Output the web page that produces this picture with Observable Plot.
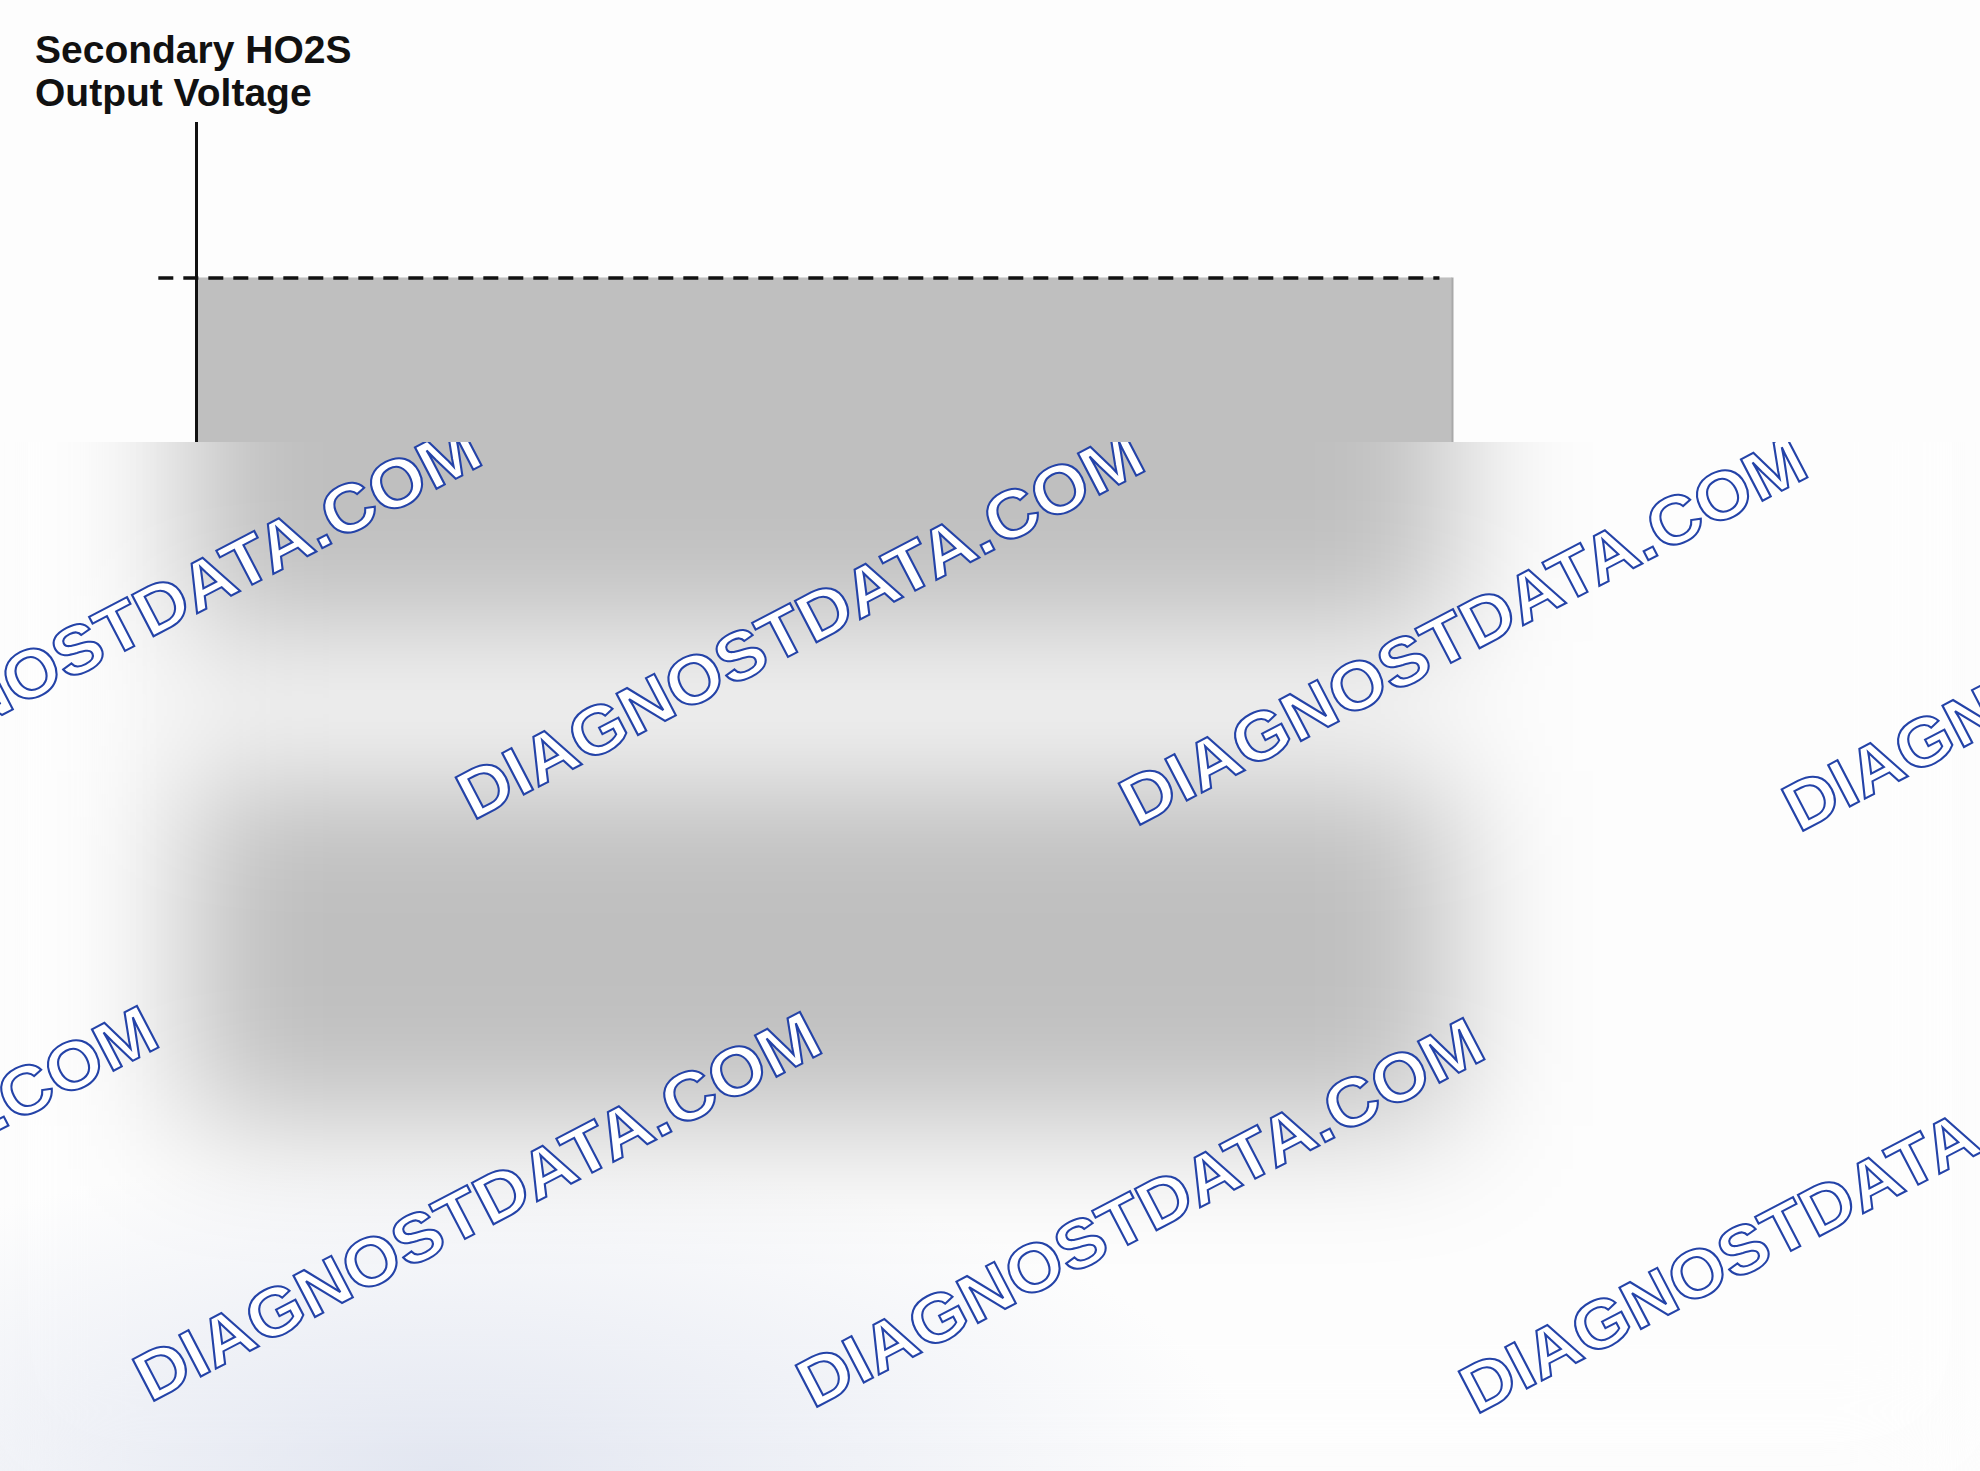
<!DOCTYPE html>
<html>
<head>
<meta charset="utf-8">
<script src="https://cdn.jsdelivr.net/npm/d3@7"></script>
<script src="https://cdn.jsdelivr.net/npm/@observablehq/plot@0.6"></script>
<style>
  html, body { margin: 0; padding: 0; background: #fdfdfd; }
  #wrap { position: relative; width: 1980px; height: 1471px; overflow: hidden; background: #fdfdfd; }
  #title { position: absolute; left: 35px; top: 28px; font: bold 39px "Liberation Sans", Arial, sans-serif; line-height: 43px; color: #111; white-space: nowrap; }
  #chart { position: absolute; left: 0; top: 120px; }
  #cover { position: absolute; left: 0; top: 442px; width: 1980px; height: 1029px; background: #fdfdfd; }
  #blur { position: absolute; left: 0; top: 120px; filter: blur(65px); clip-path: inset(322px 0 0 0); }
  #tint { position: absolute; left: 0; top: 442px; width: 1980px; height: 1029px;
          background: radial-gradient(ellipse 800px 320px at 450px 1029px, rgba(212,218,234,0.65), rgba(212,218,234,0) 100%); }
  #wm { position: absolute; left: 0; top: 0; }
</style>
</head>
<body>
<div id="wrap">
  <div id="title">Secondary HO2S<br>Output Voltage</div>
  <div id="chart"></div>
  <div id="cover"></div>
  <div id="blur"></div>
  <div id="tint"></div>
  <div id="wm"></div>
</div>
<script>
// ---- data (time in %, voltage in mV, arbitrary diagram units) ----
const timeDomain = [0, 100];
const voltageDomain = [0, 1000];
const thresholdVoltage = [845];
const thresholdStart = -3;
const thresholdEnd = 99;
const bandStart = 0;
const bandEnd = 100;
const bandLow = [485, 0];
const bandHigh = [845, 350];
// watermark
const wmText = "DIAGNOSTDATA.COM";
const wmX = [-190, 473, 1136, 1799, -513, 150, 813, 1476];
const wmY = [815, 821, 827, 833, 1397, 1403, 1409, 1415];

const bands = bandLow.map((v, i) => ({low: v, high: bandHigh[i]}));

function makeChart() {
  return Plot.plot({
    width: 1980,
    height: 1351,
    marginLeft: 196,
    marginRight: 528,
    marginTop: 2,
    marginBottom: 346,
    style: {background: "#fdfdfd"},
    x: {domain: timeDomain, axis: null},
    y: {domain: voltageDomain, axis: null},
    marks: [
      Plot.rect(bands, {x1: () => bandStart, x2: () => bandEnd, y1: "low", y2: "high", fill: "#bfbfbf"}),
      Plot.ruleX(bands, {x: () => bandEnd, y1: "low", y2: "high", stroke: "#a9a9a9", strokeWidth: 2}),
      Plot.ruleX([timeDomain[0]], {y1: () => voltageDomain[0], y2: () => voltageDomain[1], stroke: "#111", strokeWidth: 3}),
      Plot.ruleY(thresholdVoltage, {x1: () => thresholdStart, x2: () => thresholdEnd, stroke: "#111", strokeWidth: 3.5, strokeDasharray: "15,10"})
    ]
  });
}

document.getElementById("chart").appendChild(makeChart());
document.getElementById("blur").appendChild(makeChart());

// watermark overlay (only over the obscured lower part)
const svg = d3.select("#wm").append("svg")
  .attr("width", 1980).attr("height", 1471);
svg.append("defs").append("clipPath").attr("id", "wmclip")
  .append("rect").attr("x", 0).attr("y", 442).attr("width", 1980).attr("height", 1029);
svg.append("g").attr("clip-path", "url(#wmclip)")
  .selectAll("text").data(wmX).join("text")
  .attr("transform", (d, i) => `translate(${d},${wmY[i]}) rotate(-27.5)`)
  .attr("font-family", "'Liberation Sans', Arial, sans-serif")
  .attr("font-weight", "bold")
  .attr("font-size", 68)
  .attr("textLength", 762)
  .attr("lengthAdjust", "spacingAndGlyphs")
  .attr("fill", "#ffffff")
  .attr("stroke", "#2443a8")
  .attr("stroke-width", 2)
  .text(wmText);
</script>
</body>
</html>
